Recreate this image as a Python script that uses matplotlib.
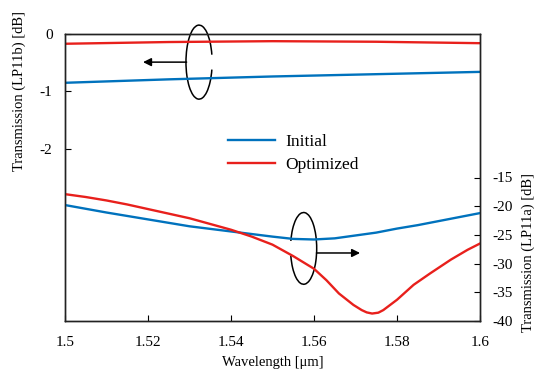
import matplotlib
matplotlib.use("Agg")
import matplotlib.pyplot as plt
from matplotlib.patches import Arc

plt.rcParams['font.family'] = ['Liberation Serif', 'DejaVu Serif']
plt.rcParams['axes.unicode_minus'] = False
plt.rcParams['mathtext.fontset'] = 'stix'

# LP11b transmission (left axis)
wl_b = [1.50, 1.525, 1.55, 1.575, 1.60]
lp11b_initial = [-0.85, -0.79, -0.74, -0.70, -0.66]
lp11b_optimized = [-0.17, -0.14, -0.125, -0.135, -0.16]

# LP11a transmission (right axis)
wl_a_init = [1.50, 1.51, 1.52, 1.53, 1.54, 1.55, 1.555, 1.56, 1.565, 1.57,
             1.575, 1.58, 1.585, 1.59, 1.595, 1.60]
lp11a_initial = [-19.8, -21.1, -22.3, -23.5, -24.4, -25.3, -25.7, -25.8,
                 -25.6, -25.1, -24.6, -23.9, -23.3, -22.6, -21.9, -21.2]

wl_a_opt = [1.50, 1.505, 1.51, 1.515, 1.52, 1.525, 1.53, 1.535, 1.54, 1.545,
            1.55, 1.555, 1.56, 1.563, 1.566, 1.5695, 1.5715, 1.5727, 1.574,
            1.5755, 1.5767, 1.58, 1.584, 1.588, 1.593, 1.597, 1.60]
lp11a_optimized = [-17.9, -18.4, -19.0, -19.7, -20.5, -21.3, -22.1, -23.1,
                   -24.1, -25.3, -26.7, -28.7, -30.9, -32.9, -35.2, -37.2,
                   -38.1, -38.5, -38.7, -38.55, -38.1, -36.3, -33.7, -31.7,
                   -29.3, -27.6, -26.5]

blue = '#0072BD'
red = '#E8201C'

fig = plt.figure(figsize=(5.37, 3.75), dpi=100)
ax = fig.add_axes([65 / 537, 54 / 375, 415 / 537, 287 / 375])
ax2 = ax.twinx()

ax.plot(wl_b, lp11b_initial, color=blue, lw=1.7)
ax.plot(wl_b, lp11b_optimized, color=red, lw=1.7)
l1, = ax2.plot(wl_a_init, lp11a_initial, color=blue, lw=1.7, label='Initial')
l2, = ax2.plot(wl_a_opt, lp11a_optimized, color=red, lw=1.7, label='Optimized')

ax.set_xlim(1.5, 1.6)
ax.set_ylim(-5, 0)
ax2.set_ylim(-40, 10)
ax.set_xticks([1.5, 1.52, 1.54, 1.56, 1.58, 1.6])
ax.set_xticklabels(['1.5', '1.52', '1.54', '1.56', '1.58', '1.6'])
ax.set_yticks([0, -1, -2])
ax2.set_yticks([-15, -20, -25, -30, -35, -40])

for a in (ax, ax2):
    a.tick_params(direction='in', length=4, width=0.8, labelsize=11, pad=9)
    for s in a.spines.values():
        s.set_linewidth(1.0)
        s.set_color('#222222')
ax.tick_params(axis='x', pad=11)

ax.set_xlabel('Wavelength [μm]', fontsize=10.5, labelpad=5)
ax.set_ylabel('Transmission (LP11b) [dB]', fontsize=10.5)
ax.yaxis.set_label_coords(-0.095, 0.80)
ax2.set_ylabel('Transmission (LP11a) [dB]', fontsize=10.5)
ax2.yaxis.set_label_coords(1.10, 0.24)

ax2.legend(handles=[l1, l2], loc='upper left', bbox_to_anchor=(0.355, 0.705),
           frameon=False, fontsize=12.5, handlelength=2.7, handletextpad=0.6,
           labelspacing=0.35)

# rings with arrows pointing to the matching axis
ax.add_patch(Arc((0.323, 0.902), 0.063, 0.258, theta1=40, theta2=320,
                 transform=ax.transAxes, color='black', lw=1.1, clip_on=False))
ax.annotate('', xy=(0.188, 0.902), xytext=(0.293, 0.902), xycoords='axes fraction',
            arrowprops=dict(arrowstyle='-|>', color='black', lw=1.1,
                            mutation_scale=12, shrinkA=0, shrinkB=0))
ax.add_patch(Arc((0.575, 0.253), 0.063, 0.25, theta1=-140, theta2=140,
                 transform=ax.transAxes, color='black', lw=1.1, clip_on=False))
ax.annotate('', xy=(0.711, 0.237), xytext=(0.606, 0.237), xycoords='axes fraction',
            arrowprops=dict(arrowstyle='-|>', color='black', lw=1.1,
                            mutation_scale=12, shrinkA=0, shrinkB=0))

fig.savefig('out.png', dpi=100)
